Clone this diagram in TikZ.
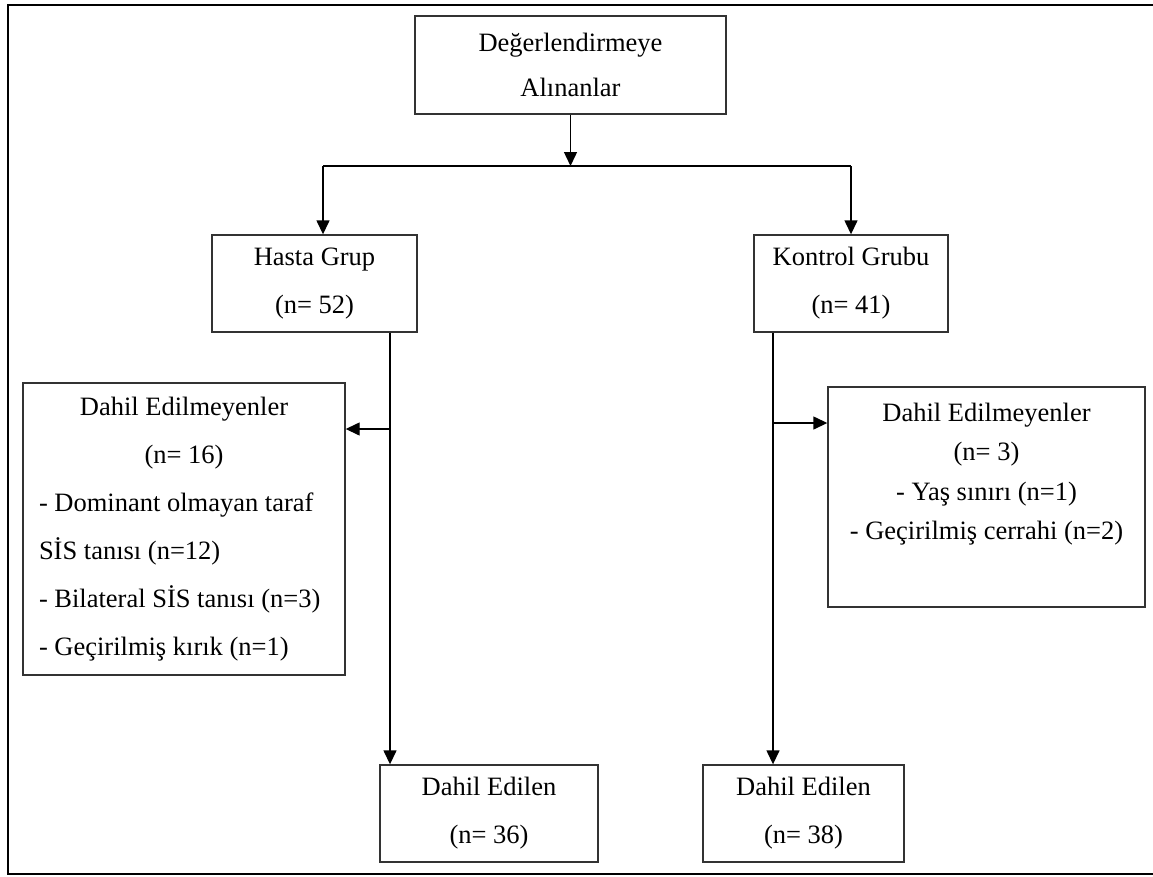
\documentclass[tikz,border=0pt]{standalone}
\usepackage{fontspec}
\setmainfont{Liberation Serif}
\usetikzlibrary{arrows.meta}
\tikzset{
  kutu/.style={draw=black!80, line width=1.4pt, inner sep=0pt, align=center,
    font=\fontsize{26.5}{48}\selectfont},
  ok/.style={-{Triangle[width=13pt,length=14pt]}, line width=1.4pt},
  cizgi/.style={line width=1.4pt}
}

\begin{document}
\begin{tikzpicture}[x=1pt,y=-1pt]
  \useasboundingbox (0,0) rectangle (1153,876);
  % cerceve
  \draw[line width=2.4pt] (1153,5) -- (8,5) -- (8,874) -- (1153,874);

  \node[kutu, minimum width=311pt, minimum height=98pt,
        font=\fontsize{26.5}{45}\selectfont] (alinan) at (570.5,65)
        {De\u{g}erlendirmeye\\Al\i nanlar};
  \node[kutu, minimum width=205pt, minimum height=97pt] (hasta) at (314.5,283.5)
        {Hasta Grup\\(n= 52)};
  \node[kutu, minimum width=194pt, minimum height=97pt] (kontrol) at (851,283.5)
        {Kontrol Grubu\\(n= 41)};
  \node[kutu, minimum width=322pt, minimum height=292pt, text width=290pt,
        align=left] (hdisla) at (184,529)
        {\spaceskip=0pt \xspaceskip=0pt
         {\centering Dahil Edilmeyenler\\(n= 16)\par}
         \raggedright
         - Dominant olmayan taraf\\S\.{I}S tan\i s\i\ (n=12)\\
         - Bilateral S\.{I}S tan\i s\i\ (n=3)\\- Ge\c{c}irilmi\c{s} k\i r\i k (n=1)};
  \node[kutu, minimum width=317pt, minimum height=220pt,
        font=\fontsize{26.5}{39.5}\selectfont] (kdisla) at (986.5,497)
        {Dahil Edilmeyenler\\(n= 3)\\- Ya\c{s} s\i n\i r\i\ (n=1)\\
         - Ge\c{c}irilmi\c{s} cerrahi (n=2)\\ \strut};
  \node[kutu, minimum width=218pt, minimum height=97pt] (hdahil) at (489,813.5)
        {Dahil Edilen\\(n= 36)};
  \node[kutu, minimum width=201pt, minimum height=97pt] (kdahil) at (803.5,813.5)
        {Dahil Edilen\\(n= 38)};

  % dallanma noktalari
  \coordinate (ayrim) at (570.5,166);
  \coordinate (sol) at (323,166);
  \coordinate (hx) at (390,429);
  \coordinate (kx) at (773,423);

  \draw[ok] (alinan.south) -- (ayrim);
  \draw[cizgi] (sol) -- (kontrol.north |- ayrim);
  \draw[ok] (sol) -- (sol |- hasta.north);
  \draw[ok] (kontrol.north |- ayrim) -- (kontrol.north);
  \draw[ok] (hasta.south -| hx) -- (hx |- hdahil.north);
  \draw[ok] (hx) -- (hdisla.east |- hx);
  \draw[ok] (kontrol.south -| kx) -- (kx |- kdahil.north);
  \draw[ok] (kx) -- (kdisla.west |- kx);
\end{tikzpicture}
\end{document}
